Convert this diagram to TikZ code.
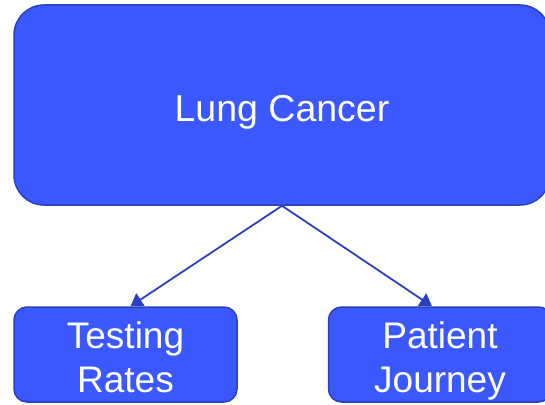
\documentclass[tikz,border=0pt]{standalone}
\usepackage{fontspec}
\setmainfont{Liberation Sans}
\usetikzlibrary{arrows.meta,calc}
\definecolor{boxfill}{HTML}{3A58FE}
\definecolor{boxline}{HTML}{2A40BF}
\newcommand{\twolines}[2]{\begin{tabular}[t]{@{}c@{}}#1\\#2\end{tabular}}
\tikzset{
  bigbox/.style={draw=boxline, line width=1.5pt, fill=boxfill, rounded corners=30pt, minimum width=536pt, minimum height=200pt, inner sep=0pt, text=white, text height=32pt, text depth=0pt, font=\fontsize{37.5}{44}\selectfont},
  smallbox/.style={draw=boxline, line width=1.5pt, fill=boxfill, rounded corners=13pt, minimum width=223pt, minimum height=95pt, inner sep=0pt, text=white, text height=26pt, text depth=39pt, font=\fontsize{37}{44}\selectfont},
  conn/.style={draw=boxline, line width=1.8pt, -{Triangle[length=12pt,width=15pt]}}
}
\begin{document}
\begin{tikzpicture}[x=1pt,y=-1pt]
\useasboundingbox (0,0) rectangle (545,404);
\clip (0,0) rectangle (545,404);
\node[bigbox] (top) at (282,105) {Lung Cancer};
\node[smallbox] (lt) at (125.5,354.5) {\twolines{Testing}{Rates}};
\node[smallbox] (rt) at (440,354.5) {\twolines{Patient}{Journey}};
\draw[conn] (top.south) -- ($(lt.north)+(5,0)$);
\draw[conn] (top.south) -- ($(rt.north)+(-8,0)$);
\end{tikzpicture}
\end{document}
